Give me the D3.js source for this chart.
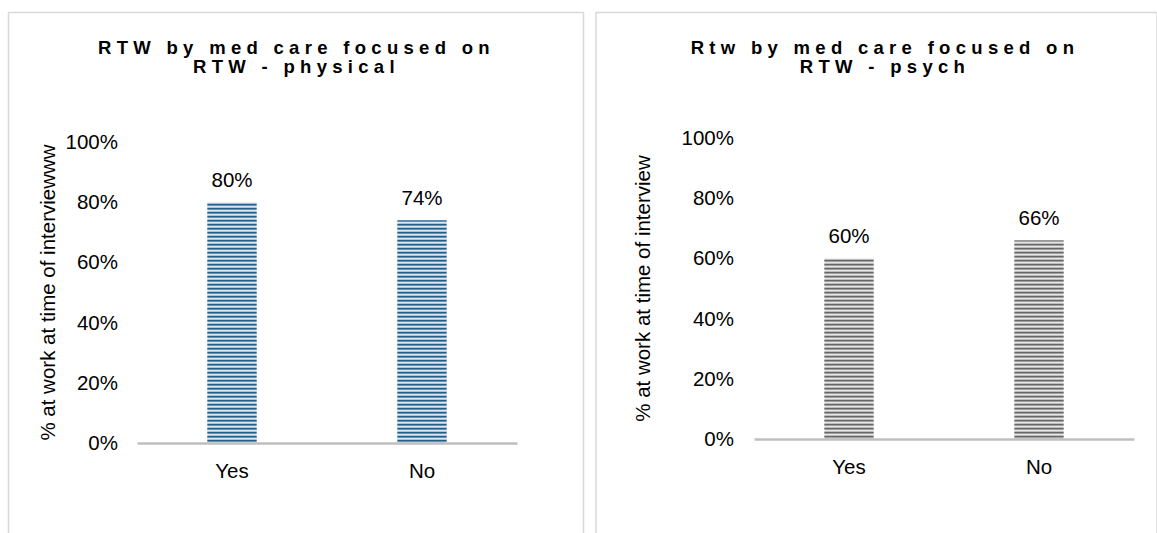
<!DOCTYPE html>
<html>
<head>
<meta charset="utf-8">
<script src="https://cdn.jsdelivr.net/npm/d3@7"></script>
<style>
  html, body { margin: 0; padding: 0; background: #ffffff; }
  svg { display: block; font-family: "Liberation Sans", Arial, sans-serif; }
</style>
</head>
<body>
<svg id="chart" width="1157" height="533"></svg>
<script>
// ---- data ----
const categories = ["Yes", "No"];
const physicalValues = [0.80, 0.74];
const psychValues = [0.60, 0.66];
const yTickValues = [0, 0.2, 0.4, 0.6, 0.8, 1.0];
const physicalTitle = ["RTW by med care focused on", "RTW - physical"];
const psychTitle = ["Rtw by med care focused on", "RTW - psych"];
const physicalYLabel = "% at work at time of interviewww";
const psychYLabel = "% at work at time of interview";

const svg = d3.select("#chart");
const defs = svg.append("defs");

function stripePattern(id, colors) {
  const p = defs.append("pattern")
    .attr("id", id)
    .attr("patternUnits", "userSpaceOnUse")
    .attr("width", 8).attr("height", colors.length);
  colors.forEach((c, i) => {
    p.append("rect").attr("x", 0).attr("y", i).attr("width", 8).attr("height", 1).attr("fill", c);
  });
}
stripePattern("blueStripes", ["#245f88", "#6592b4", "#dce8f1", "#a9c4d7"]);
stripePattern("grayStripes", ["#666666", "#a0a0a0", "#e6e6e6", "#bdbdbd"]);

function drawPanel(cfg) {
  const g = svg.append("g");
  // panel border
  g.append("path")
    .attr("d", `M${cfg.box[0]},540 V${cfg.box[1]} H${cfg.box[2]} V540`)
    .attr("fill", "none").attr("stroke", "#d9d9d9").attr("stroke-width", 1.5);

  const x = d3.scaleBand().domain(categories).range(cfg.xRange).padding(0);
  const y = d3.scaleLinear().domain([0, 1]).range(cfg.yRange);
  const barW = x.bandwidth() * 0.26;

  // title
  const t = g.append("text")
    .attr("x", cfg.titleX).attr("y", cfg.titleY)
    .attr("text-anchor", "middle")
    .attr("font-size", 18.5).attr("font-weight", "bold")
    .attr("letter-spacing", 5.3)
    .attr("fill", "#000");
  cfg.title.forEach((line, i) => {
    t.append("tspan").attr("x", cfg.titleX).attr("dy", i === 0 ? 0 : 19).text(line);
  });

  // y axis (labels only)
  const yAxis = d3.axisLeft(y).tickValues(yTickValues).tickFormat(d3.format(".0%")).tickSize(0).tickPadding(0);
  const ya = g.append("g").attr("transform", `translate(${cfg.tickX},0)`).call(yAxis);
  ya.select(".domain").remove();
  ya.selectAll("text").attr("font-size", 20.5).attr("fill", "#000").attr("font-family", "Liberation Sans, Arial, sans-serif");

  // y axis title
  g.append("text")
    .attr("transform", `translate(${cfg.yLabelX},${(cfg.yRange[0] + cfg.yRange[1]) / 2}) rotate(-90)`)
    .attr("text-anchor", "middle").attr("dominant-baseline", "central")
    .attr("font-size", 20.5).attr("fill", "#000")
    .text(cfg.yLabel);

  // bars
  g.selectAll("rect.bar").data(cfg.values).join("rect")
    .attr("class", "bar")
    .attr("x", (d, i) => x(categories[i]) + x.bandwidth() / 2 - barW / 2)
    .attr("y", d => y(d))
    .attr("width", barW)
    .attr("height", d => y(0) - y(d))
    .attr("fill", `url(#${cfg.pattern})`);

  // data labels
  g.selectAll("text.val").data(cfg.values).join("text")
    .attr("class", "val")
    .attr("x", (d, i) => x(categories[i]) + x.bandwidth() / 2)
    .attr("y", d => y(d) - 23)
    .attr("text-anchor", "middle").attr("dominant-baseline", "central")
    .attr("font-size", 20.5).attr("fill", "#000")
    .text(d3.format(".0%"));

  // x axis
  const xAxis = d3.axisBottom(x).tickSize(0).tickPadding(20);
  const xa = g.append("g").attr("transform", `translate(0,${y(0)})`).call(xAxis);
  xa.select(".domain").attr("stroke", "#bfbfbf").attr("stroke-width", 2.5);
  xa.selectAll("text").attr("font-size", 20.5).attr("fill", "#000").attr("font-family", "Liberation Sans, Arial, sans-serif");
}

drawPanel({
  box: [8.5, 12.5, 583.5],
  xRange: [137, 517], yRange: [443, 142],
  title: physicalTitle, titleX: 296.5, titleY: 54,
  tickX: 118, yLabelX: 47, yLabel: physicalYLabel,
  values: physicalValues, pattern: "blueStripes"
});
drawPanel({
  box: [596, 12.5, 1157],
  xRange: [754, 1134], yRange: [439, 138],
  title: psychTitle, titleX: 885, titleY: 54,
  tickX: 734, yLabelX: 642, yLabel: psychYLabel,
  values: psychValues, pattern: "grayStripes"
});
</script>
</body>
</html>
